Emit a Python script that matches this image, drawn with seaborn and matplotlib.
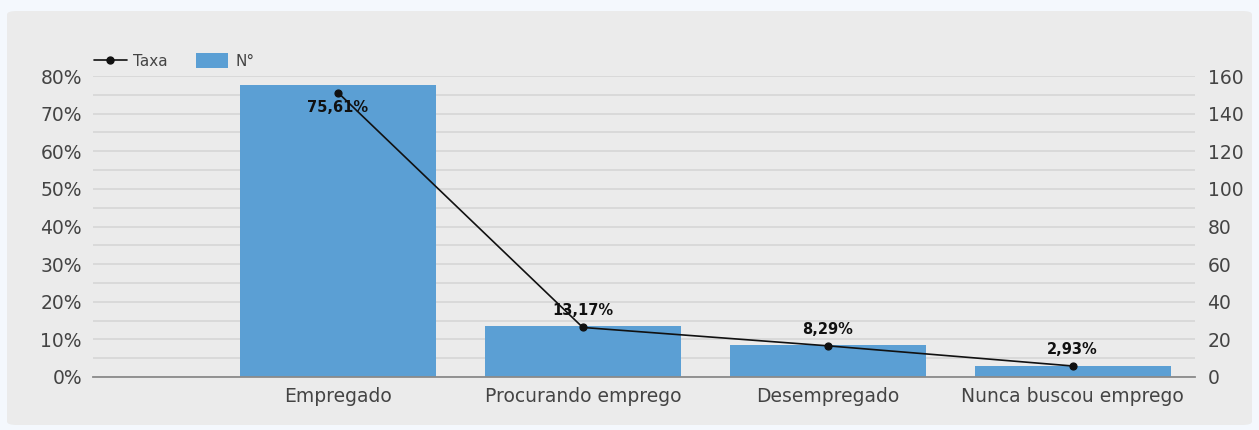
import matplotlib
matplotlib.use("Agg")
import matplotlib.pyplot as plt
from matplotlib.patches import FancyBboxPatch, Patch
from matplotlib.lines import Line2D
from matplotlib.ticker import FuncFormatter, MultipleLocator
import seaborn as sns

categories = ["Empregado", "Procurando emprego", "Desempregado", "Nunca buscou emprego"]
counts = [155, 27, 17, 6]
rates = [0.7561, 0.1317, 0.0829, 0.0293]
rate_labels = ["75,61%", "13,17%", "8,29%", "2,93%"]

BAR_COLOR = "#5b9fd4"
TEXT_COLOR = "#444444"
PANEL_COLOR = "#ebebeb"

sns.set_theme(style="white")
plt.rcParams["font.family"] = ["DejaVu Sans"]

fig = plt.figure(figsize=(12.59, 4.30), dpi=100, facecolor="#f4f8fd")

# grey card behind the chart
fig.patches.append(FancyBboxPatch((7 / 1259, 5 / 430), 1245 / 1259, 414 / 430,
                                  boxstyle="round,pad=0,rounding_size=0.008",
                                  transform=fig.transFigure, facecolor=PANEL_COLOR,
                                  edgecolor="none", zorder=-10))

ax = fig.add_axes([93 / 1259, 1 - 377 / 430, (1195 - 93) / 1259, (377 - 76) / 430])
ax.set_facecolor("none")

# counts on the bar axis
sns.barplot(x=categories, y=counts, ax=ax, color=BAR_COLOR, width=0.8,
            saturation=1, linewidth=0, edgecolor="none", zorder=2)
ax.set_ylim(0, 160)
ax.yaxis.set_major_locator(MultipleLocator(20))
ax.yaxis.set_minor_locator(MultipleLocator(10))
ax.grid(True, axis="y", which="both", color="#d8d8d8", linewidth=1.3)
ax.set_axisbelow(True)
ax.tick_params(axis="x", length=0, labelsize=13.5, labelcolor=TEXT_COLOR, pad=7)
ax.set_xlabel("")
ax.set_ylabel("")
for side in ["top", "left", "right"]:
    ax.spines[side].set_visible(False)
ax.spines["bottom"].set_color("#8a8a8a")
ax.spines["bottom"].set_linewidth(1.3)

# rates on the twin axis
ax2 = ax.twinx()
sns.pointplot(x=categories, y=rates, ax=ax2, color="#111111", markers="o",
              markersize=5, linewidth=1.2, zorder=4)
ax2.set_ylim(0, 0.8)
ax2.yaxis.set_major_locator(MultipleLocator(0.1))
ax2.yaxis.set_major_formatter(FuncFormatter(lambda v, p: f"{v * 100:.0f}%"))
ax2.set_ylabel("")
ax2.set_xlabel("")
for side in ["top", "left", "right", "bottom"]:
    ax2.spines[side].set_visible(False)

# counts labelled on the right, rates on the left
ax.tick_params(axis="y", which="both", length=0, labelsize=13.5, labelcolor=TEXT_COLOR,
               pad=9, left=False, labelleft=False, right=False, labelright=True)
ax2.tick_params(axis="y", which="both", length=0, labelsize=13.5, labelcolor=TEXT_COLOR,
                pad=8, left=False, labelleft=True, right=False, labelright=False)

for i, (r, lab) in enumerate(zip(rates, rate_labels)):
    dy = -11 if i == 0 else 12
    ax2.annotate(lab, (i, r), xytext=(0, dy), textcoords="offset points",
                 ha="center", va="center", fontsize=10.5, fontweight="bold",
                 color="#111111", zorder=5)

ax.set_xlim(-1, 3.5)
ax2.set_xlim(-1, 3.5)

handles = [Line2D([0], [0], color="#111111", marker="o", markersize=5, linewidth=1.2),
           Patch(facecolor=BAR_COLOR, edgecolor="none")]
fig.legend(handles, ["Taxa", "N°"], loc="center left",
           bbox_to_anchor=(80 / 1259, 1 - 61 / 430), ncol=2, frameon=False,
           fontsize=11, labelcolor=TEXT_COLOR, handlelength=2.15, handleheight=1.15,
           handletextpad=0.45, columnspacing=1.8)

fig.savefig("out.png", dpi=100, facecolor=fig.get_facecolor())
